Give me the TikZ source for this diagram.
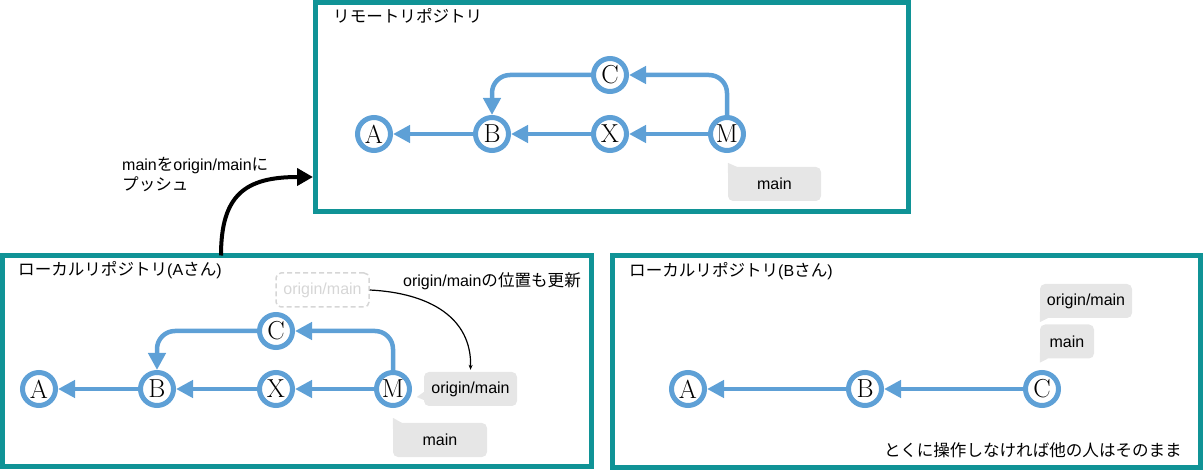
\documentclass[tikz,border=0pt]{standalone}
\usepackage{fontspec}
\newfontfamily\jp{Noto Sans CJK JP}[Scale=1.035]
\newfontfamily\lat{Liberation Sans}
\usetikzlibrary{arrows.meta}
\definecolor{framecol}{RGB}{16,147,150}
\definecolor{commitblue}{RGB}{94,160,214}
\definecolor{tagfill}{RGB}{230,230,230}
\definecolor{ghost}{RGB}{214,214,214}
\tikzset{
	commit/.style={circle, draw=commitblue, fill=white, line width=5pt, minimum size=33pt, inner sep=0pt, outer sep=2.5pt, font=\fontsize{26}{26}\selectfont},
	parent/.style={draw=commitblue, line width=4.5pt, -{Triangle[length=17pt,width=17pt]}},
	repo/.style={draw=framecol, line width=5pt, inner sep=0pt, outer sep=2.5pt},
	txt/.style={font=\lat\fontsize{16}{20}\selectfont, inner sep=0pt},
	tag/.style={txt, fill=tagfill, rounded corners=5pt, minimum height=34pt},
	ghosttag/.style={txt, draw=ghost, text=ghost, line width=1.5pt, dash pattern=on 5pt off 3pt, rounded corners=5pt, minimum width=93pt, minimum height=34pt},
	push/.style={line width=4pt, -{Triangle[length=16pt,width=17pt]}}
}
\begin{document}
\begin{tikzpicture}[x=1pt,y=-1pt]
	\useasboundingbox (0,0) rectangle (1203,470);
	% repositories
	\node[repo, minimum width=592.5pt, minimum height=209pt] (remote) at (611.75,107) {};
	\node[repo, minimum width=588.5pt, minimum height=211pt] (localA) at (296.75,361) {};
	\node[repo, minimum width=588pt, minimum height=212pt] (localB) at (906.5,361.5) {};
	\node[txt, anchor=west] (rtitle) at (333,16) {\jp リモートリポジトリ};
	\node[txt, anchor=west] (atitle) at (18,270) {{\jp ローカルリポジトリ}(A{\jp さん})};
	\node[txt, anchor=west] (btitle) at (629,271) {{\jp ローカルリポジトリ}(B{\jp さん})};
	% push
	\coordinate (pushfrom) at (221,255.5);
	\coordinate (pushto) at (313,177);
	\draw[push] (pushfrom) .. controls (221,195) and (245,177) .. (pushto);
	\node[txt, anchor=west, align=left] (pushlabel) at (122,175) {main{\jp を}origin/main{\jp に}\\{\jp プッシュ}};
	% remote
	\node[commit] (rA) at (374,134) {A};
	\node[commit] (rB) at (492,134) {B};
	\node[commit] (rX) at (610,134) {X};
	\node[commit] (rM) at (727,134) {M};
	\node[commit] (rC) at (610,75) {C};
	\draw[parent] (rB) -- (rA);
	\draw[parent] (rX) -- (rB);
	\draw[parent] (rM) -- (rX);
	\draw[parent, rounded corners=18pt] (rM.north) |- (rC.east);
	\draw[parent, rounded corners=18pt] (rC.west) -| (rB.north);
	\node[tag, minimum width=93pt] (rmain) at (774.5,184) {main};
	\fill[tagfill] ([yshift=-6pt]rmain.north west) -- ([yshift=4pt]rmain.north west) -- ([xshift=9pt]rmain.north west) -- cycle;
	% local A
	\node[commit] (aA) at (39,389) {A};
	\node[commit] (aB) at (157,389) {B};
	\node[commit] (aX) at (276,389) {X};
	\node[commit] (aM) at (393,389) {M};
	\node[commit] (aC) at (276,331) {C};
	\draw[parent] (aB) -- (aA);
	\draw[parent] (aX) -- (aB);
	\draw[parent] (aM) -- (aX);
	\draw[parent, rounded corners=18pt] (aM.north) |- (aC.east);
	\draw[parent, rounded corners=18pt] (aC.west) -| (aB.north);
	\node[ghosttag] (aold) at (322.5,290) {origin/main};
	\node[tag, minimum width=93pt] (aorigin) at (470.5,389) {origin/main};
	\fill[tagfill] ([yshift=-3pt]aorigin.west) -- ([xshift=-7pt,yshift=-8pt]aorigin.west) -- ([yshift=-11pt]aorigin.west) -- cycle;
	\node[tag, minimum width=94pt] (amain) at (440,440) {main};
	\fill[tagfill] ([yshift=-6pt]amain.north west) -- ([yshift=5pt]amain.north west) -- ([xshift=9pt]amain.north west) -- cycle;
	\draw[line width=1.2pt, -{Stealth[length=5pt,width=4pt]}] (aold.east) .. controls (430,293) and (472,318) .. ([yshift=2pt]aorigin.north);
	\node[txt] (anote) at (492,281) {origin/main{\jp の位置も更新}};
	% local B
	\node[commit] (bA) at (688,389) {A};
	\node[commit] (bB) at (865,389) {B};
	\node[commit] (bC) at (1042,389) {C};
	\draw[parent] (bB) -- (bA);
	\draw[parent] (bC) -- (bB);
	\node[tag, minimum width=92pt] (borigin) at (1086,301) {origin/main};
	\fill[tagfill] ([yshift=6pt]borigin.south west) -- ([yshift=-4pt]borigin.south west) -- ([xshift=8pt]borigin.south west) -- cycle;
	\node[tag, minimum width=54pt] (bmain) at (1067,341.5) {main};
	\fill[tagfill] ([yshift=6pt]bmain.south west) -- ([yshift=-4pt]bmain.south west) -- ([xshift=8pt]bmain.south west) -- cycle;
	\node[txt, anchor=east] (bnote) at (1182,450) {\jp とくに操作しなければ他の人はそのまま};
\end{tikzpicture}
\end{document}
